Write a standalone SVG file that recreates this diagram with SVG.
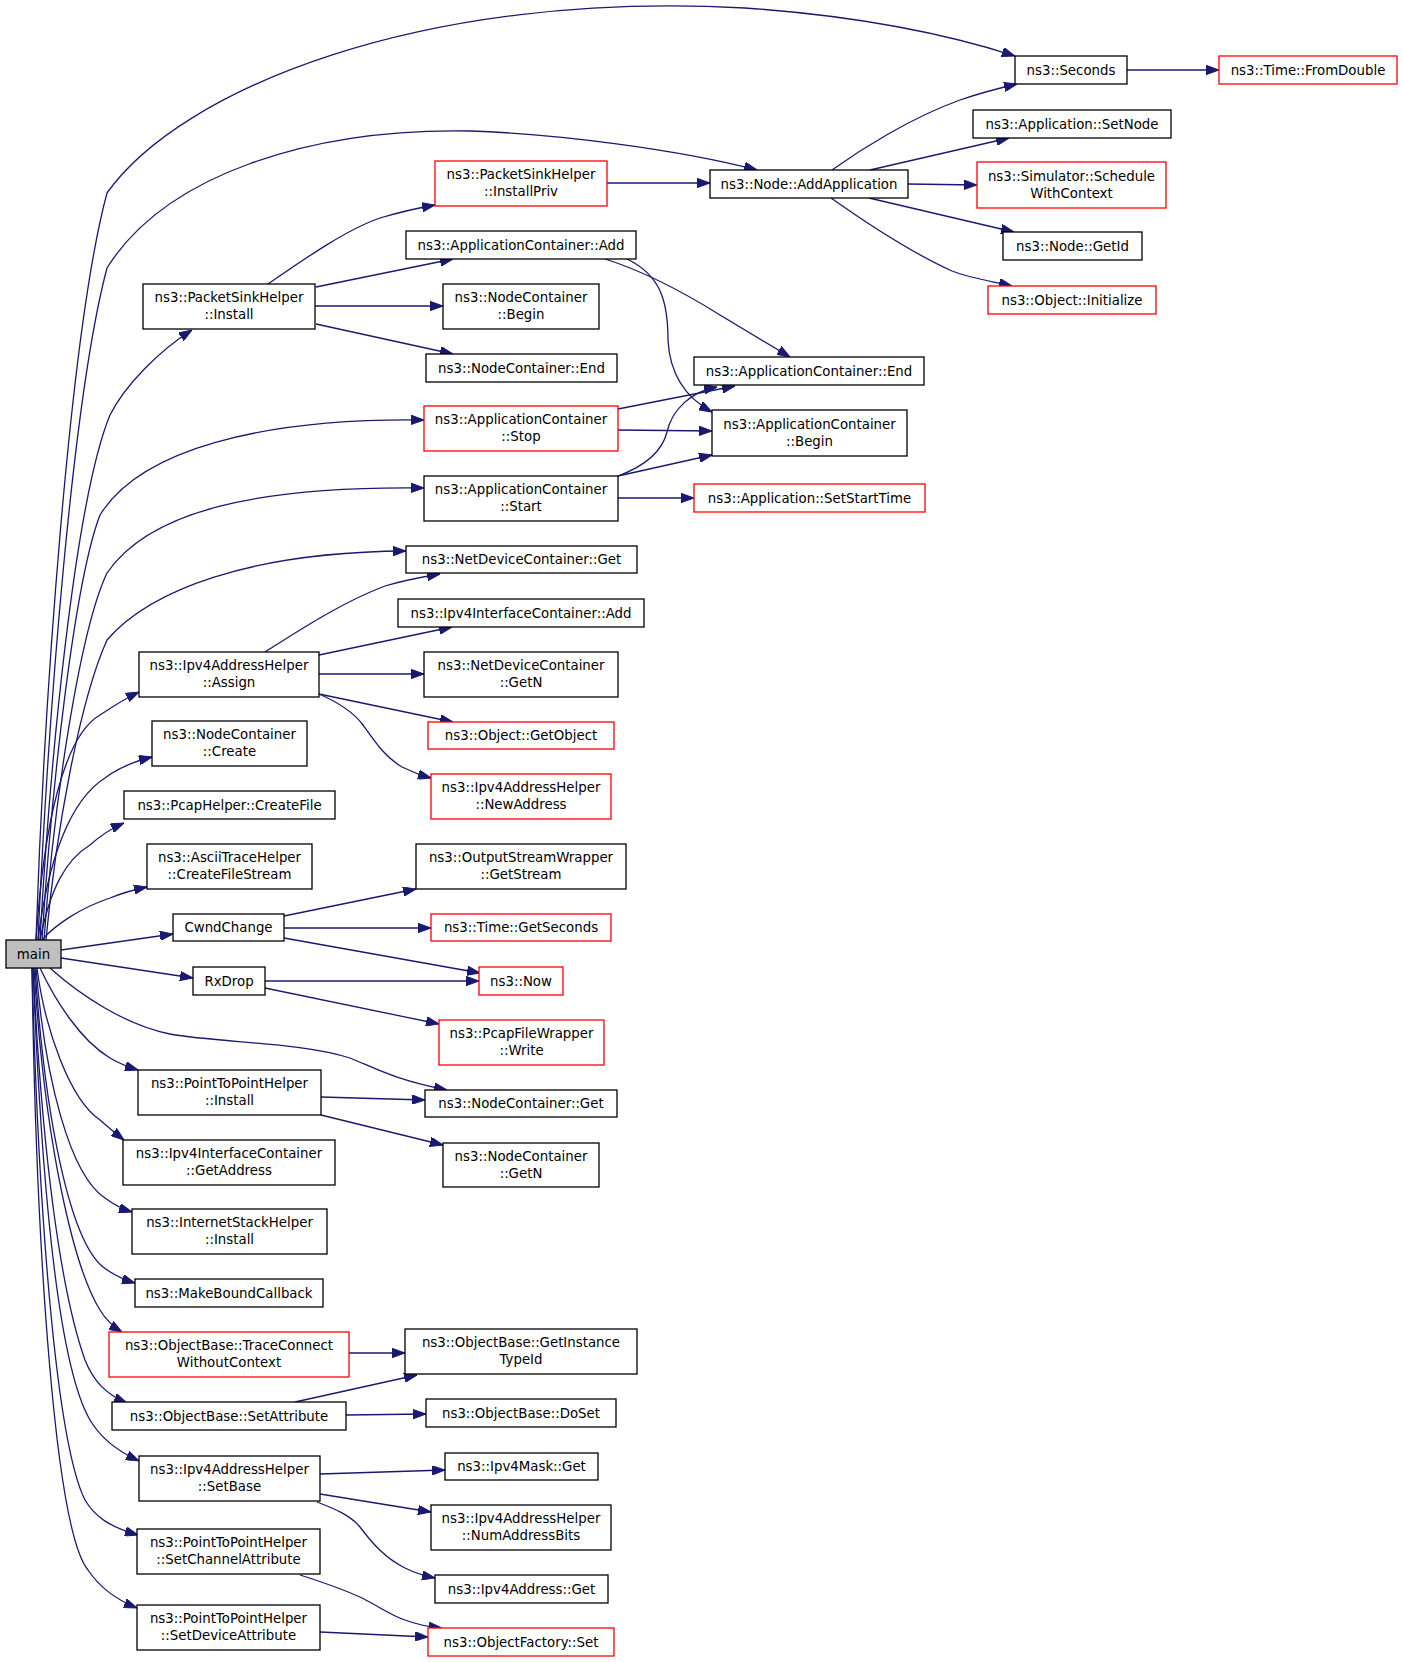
<svg xmlns="http://www.w3.org/2000/svg" width="1403" height="1662" viewBox="0 0 1403 1662">
<style>
.n rect{fill:#fff;stroke:#000;stroke-width:1.3}
.n.r rect{stroke:#ff0000}
.n.m rect{fill:#bfbfbf}
.n text{font-family:"DejaVu Sans","Liberation Sans",sans-serif;font-size:13.33px;text-anchor:middle;fill:#000}
#edges path{fill:none;stroke:#191970;stroke-width:1.3;marker-end:url(#ah)}
</style>
<defs>
<marker id="ah" viewBox="0 0 13 9.4" refX="13" refY="4.7" markerWidth="13" markerHeight="9.4" markerUnits="userSpaceOnUse" orient="auto">
<path d="M0,0 L13,4.7 L0,9.4 z" fill="#191970" stroke="#191970" stroke-width="1"/>
</marker>
</defs>
<rect x="0" y="0" width="1403" height="1662" fill="#fff"/>
<g id="edges">
<path d="M36,940 C44,700 70,330 107,193 C180,90 420,-10 745,8 C860,16 950,35 1015,56"/>
<path d="M38,940 C48,720 72,400 107,268 C165,175 310,128 470,131 C560,134 680,150 757,170"/>
<path d="M40,940 C50,760 75,500 110,415 C125,385 160,350 192,330"/>
<path d="M42,940 C52,780 75,580 100,515 C140,450 260,418 424,420"/>
<path d="M44,940 C54,800 80,630 107,573 C150,510 260,486 424,488"/>
<path d="M46,940 C56,830 80,700 107,640 C150,590 250,552 406,551"/>
<path d="M36,940 C44,820 65,735 100,715 C112,707 124,699 139,692"/>
<path d="M38,940 C48,860 70,800 105,778 C118,768 132,762 152,757"/>
<path d="M40,940 C50,890 65,860 90,845 C100,836 110,829 124,823"/>
<path d="M42,940 C55,925 80,908 110,898 C120,894 132,890 147,887"/>
<path d="M61,950 L173,934"/>
<path d="M61,958 L193,978"/>
<path d="M50,968 C80,995 125,1025 170,1034 C220,1043 300,1042 350,1058 C375,1068 395,1080 447,1090"/>
<path d="M40,968 C55,1000 80,1040 110,1058 C120,1064 128,1067 138,1070"/>
<path d="M37,968 C45,1030 70,1100 100,1120 C108,1127 115,1133 124,1140"/>
<path d="M36,968 C45,1080 70,1175 105,1198 C113,1204 122,1209 132,1212"/>
<path d="M35,968 C45,1120 70,1240 103,1267 C112,1274 122,1279 135,1283"/>
<path d="M34,968 C45,1150 75,1270 100,1310 C106,1320 112,1326 122,1332"/>
<path d="M33,968 C42,1150 60,1290 85,1360 C93,1380 105,1394 127,1403"/>
<path d="M33,968 C40,1150 55,1360 90,1420 C100,1437 115,1450 139,1461"/>
<path d="M32,968 C38,1200 55,1440 85,1500 C95,1517 110,1527 138,1535"/>
<path d="M32,968 C36,1250 55,1530 88,1570 C98,1585 112,1598 137,1608"/>
<path d="M268,284 C300,262 345,230 380,218 C400,212 418,208 435,205"/>
<path d="M316,287 L453,259"/>
<path d="M315,306 L443,306"/>
<path d="M316,324 L453,354"/>
<path d="M607,183 L710,183"/>
<path d="M832,170 C860,150 910,118 960,100 C980,93 1000,88 1017,84"/>
<path d="M870,170 L1009,138"/>
<path d="M908,184 L977,185"/>
<path d="M869,198 L1014,232"/>
<path d="M831,198 C865,222 910,252 952,271 C970,278 990,281 1012,286"/>
<path d="M1127,70 L1219,70"/>
<path d="M605,259 C640,270 680,290 720,315 C745,330 770,345 790,357"/>
<path d="M627,259 C660,275 668,300 668,340 C670,380 690,400 712,412"/>
<path d="M618,409 L735,386"/>
<path d="M618,430 L712,431"/>
<path d="M618,476 C645,466 662,452 667,432 C672,410 690,392 717,387"/>
<path d="M618,476 L712,455"/>
<path d="M618,498 L694,498"/>
<path d="M265,652 C295,633 340,603 385,586 C405,580 422,577 440,574"/>
<path d="M319,655 L452,627"/>
<path d="M319,674 L424,674"/>
<path d="M319,694 L453,722"/>
<path d="M319,694 C335,701 352,710 363,725 C375,742 385,757 402,767 C412,772 420,775 431,778"/>
<path d="M284,916 L416,889"/>
<path d="M284,928 L431,928"/>
<path d="M284,938 L480,973"/>
<path d="M265,981 L479,981"/>
<path d="M265,988 L439,1024"/>
<path d="M321,1097 L425,1100"/>
<path d="M321,1115 L443,1145"/>
<path d="M349,1353 L405,1353"/>
<path d="M295,1402 L417,1375"/>
<path d="M346,1415 L426,1414"/>
<path d="M320,1474 L445,1470"/>
<path d="M320,1494 L431,1512"/>
<path d="M317,1502 C335,1509 350,1515 360,1527 C372,1543 385,1558 405,1568 C415,1573 425,1576 435,1578"/>
<path d="M300,1575 C325,1583 345,1590 362,1598 C380,1607 390,1615 405,1620 C418,1625 430,1627 442,1628"/>
<path d="M320,1632 L428,1637"/>
</g>
<g id="main" class="n m"><rect x="6" y="940" width="55" height="28"/><text x="33.5" y="958.5">main</text></g>
<g id="seconds" class="n"><rect x="1015" y="56" width="112" height="28"/><text x="1071" y="74.5">ns3::Seconds</text></g>
<g id="fromdouble" class="n r"><rect x="1219" y="56" width="178" height="28"/><text x="1308" y="74.5">ns3::Time::FromDouble</text></g>
<g id="setnode" class="n"><rect x="973" y="110" width="198" height="28"/><text x="1072" y="128.5">ns3::Application::SetNode</text></g>
<g id="schedule" class="n r"><rect x="977" y="162" width="189" height="46"/><text x="1071.5" y="180.5">ns3::Simulator::Schedule</text><text x="1071.5" y="197.5">WithContext</text></g>
<g id="getid" class="n"><rect x="1003" y="232" width="139" height="28"/><text x="1072.5" y="250.5">ns3::Node::GetId</text></g>
<g id="initialize" class="n r"><rect x="988" y="286" width="168" height="28"/><text x="1072" y="304.5">ns3::Object::Initialize</text></g>
<g id="addapp" class="n"><rect x="710" y="170" width="198" height="28"/><text x="809" y="188.5">ns3::Node::AddApplication</text></g>
<g id="installpriv" class="n r"><rect x="435" y="161" width="172" height="45"/><text x="521" y="179">ns3::PacketSinkHelper</text><text x="521" y="196">::InstallPriv</text></g>
<g id="appadd" class="n"><rect x="406" y="231" width="230" height="28"/><text x="521" y="249.5">ns3::ApplicationContainer::Add</text></g>
<g id="psinstall" class="n"><rect x="143" y="284" width="172" height="45"/><text x="229" y="302">ns3::PacketSinkHelper</text><text x="229" y="319">::Install</text></g>
<g id="ncbegin" class="n"><rect x="443" y="284" width="156" height="45"/><text x="521" y="302">ns3::NodeContainer</text><text x="521" y="319">::Begin</text></g>
<g id="ncend" class="n"><rect x="426" y="354" width="191" height="28"/><text x="521.5" y="372.5">ns3::NodeContainer::End</text></g>
<g id="acend" class="n"><rect x="694" y="357" width="230" height="28"/><text x="809" y="375.5">ns3::ApplicationContainer::End</text></g>
<g id="acbegin" class="n"><rect x="712" y="410" width="195" height="46"/><text x="809.5" y="428.5">ns3::ApplicationContainer</text><text x="809.5" y="445.5">::Begin</text></g>
<g id="stop" class="n r"><rect x="424" y="406" width="194" height="45"/><text x="521" y="424">ns3::ApplicationContainer</text><text x="521" y="441">::Stop</text></g>
<g id="start" class="n"><rect x="424" y="476" width="194" height="45"/><text x="521" y="494">ns3::ApplicationContainer</text><text x="521" y="511">::Start</text></g>
<g id="setstart" class="n r"><rect x="694" y="484" width="231" height="28"/><text x="809.5" y="502.5">ns3::Application::SetStartTime</text></g>
<g id="ndcget" class="n"><rect x="406" y="546" width="231" height="27"/><text x="521.5" y="564">ns3::NetDeviceContainer::Get</text></g>
<g id="ipv4icadd" class="n"><rect x="398" y="599" width="246" height="28"/><text x="521" y="617.5">ns3::Ipv4InterfaceContainer::Add</text></g>
<g id="assign" class="n"><rect x="139" y="652" width="180" height="45"/><text x="229" y="670">ns3::Ipv4AddressHelper</text><text x="229" y="687">::Assign</text></g>
<g id="ndcgetn" class="n"><rect x="424" y="652" width="194" height="45"/><text x="521" y="670">ns3::NetDeviceContainer</text><text x="521" y="687">::GetN</text></g>
<g id="getobject" class="n r"><rect x="428" y="722" width="186" height="27"/><text x="521" y="740">ns3::Object::GetObject</text></g>
<g id="newaddress" class="n r"><rect x="431" y="774" width="180" height="45"/><text x="521" y="792">ns3::Ipv4AddressHelper</text><text x="521" y="809">::NewAddress</text></g>
<g id="nccreate" class="n"><rect x="152" y="721" width="155" height="45"/><text x="229.5" y="739">ns3::NodeContainer</text><text x="229.5" y="756">::Create</text></g>
<g id="createfile" class="n"><rect x="124" y="791" width="211" height="28"/><text x="229.5" y="809.5">ns3::PcapHelper::CreateFile</text></g>
<g id="cfs" class="n"><rect x="147" y="844" width="165" height="45"/><text x="229.5" y="862">ns3::AsciiTraceHelper</text><text x="229.5" y="879">::CreateFileStream</text></g>
<g id="getstream" class="n"><rect x="416" y="844" width="210" height="45"/><text x="521" y="862">ns3::OutputStreamWrapper</text><text x="521" y="879">::GetStream</text></g>
<g id="cwnd" class="n"><rect x="173" y="914" width="111" height="27"/><text x="228.5" y="932">CwndChange</text></g>
<g id="getseconds" class="n r"><rect x="431" y="914" width="180" height="27"/><text x="521" y="932">ns3::Time::GetSeconds</text></g>
<g id="rxdrop" class="n"><rect x="193" y="967" width="72" height="28"/><text x="229" y="985.5">RxDrop</text></g>
<g id="now" class="n r"><rect x="479" y="967" width="84" height="28"/><text x="521" y="985.5">ns3::Now</text></g>
<g id="write" class="n r"><rect x="439" y="1020" width="165" height="45"/><text x="521.5" y="1038">ns3::PcapFileWrapper</text><text x="521.5" y="1055">::Write</text></g>
<g id="p2pinstall" class="n"><rect x="138" y="1070" width="183" height="45"/><text x="229.5" y="1088">ns3::PointToPointHelper</text><text x="229.5" y="1105">::Install</text></g>
<g id="ncget" class="n"><rect x="425" y="1090" width="192" height="27"/><text x="521" y="1108">ns3::NodeContainer::Get</text></g>
<g id="ncgetn" class="n"><rect x="443" y="1143" width="156" height="44"/><text x="521" y="1160.5">ns3::NodeContainer</text><text x="521" y="1177.5">::GetN</text></g>
<g id="getaddress" class="n"><rect x="123" y="1140" width="212" height="45"/><text x="229" y="1158">ns3::Ipv4InterfaceContainer</text><text x="229" y="1175">::GetAddress</text></g>
<g id="ishinstall" class="n"><rect x="132" y="1209" width="195" height="45"/><text x="229.5" y="1227">ns3::InternetStackHelper</text><text x="229.5" y="1244">::Install</text></g>
<g id="mbc" class="n"><rect x="135" y="1279" width="188" height="28"/><text x="229" y="1297.5">ns3::MakeBoundCallback</text></g>
<g id="traceconnect" class="n r"><rect x="109" y="1332" width="240" height="45"/><text x="229" y="1350">ns3::ObjectBase::TraceConnect</text><text x="229" y="1367">WithoutContext</text></g>
<g id="getinstancetypeid" class="n"><rect x="405" y="1329" width="232" height="45"/><text x="521" y="1347">ns3::ObjectBase::GetInstance</text><text x="521" y="1364">TypeId</text></g>
<g id="setattribute" class="n"><rect x="112" y="1402" width="234" height="28"/><text x="229" y="1420.5">ns3::ObjectBase::SetAttribute</text></g>
<g id="doset" class="n"><rect x="426" y="1399" width="190" height="28"/><text x="521" y="1417.5">ns3::ObjectBase::DoSet</text></g>
<g id="setbase" class="n"><rect x="139" y="1456" width="181" height="45"/><text x="229.5" y="1474">ns3::Ipv4AddressHelper</text><text x="229.5" y="1491">::SetBase</text></g>
<g id="ipv4maskget" class="n"><rect x="445" y="1453" width="153" height="27"/><text x="521.5" y="1471">ns3::Ipv4Mask::Get</text></g>
<g id="numaddrbits" class="n"><rect x="431" y="1505" width="180" height="45"/><text x="521" y="1523">ns3::Ipv4AddressHelper</text><text x="521" y="1540">::NumAddressBits</text></g>
<g id="ipv4addrget" class="n"><rect x="435" y="1575" width="173" height="28"/><text x="521.5" y="1593.5">ns3::Ipv4Address::Get</text></g>
<g id="setchannel" class="n"><rect x="137" y="1529" width="183" height="45"/><text x="228.5" y="1547">ns3::PointToPointHelper</text><text x="228.5" y="1564">::SetChannelAttribute</text></g>
<g id="setdevice" class="n"><rect x="137" y="1605" width="183" height="45"/><text x="228.5" y="1623">ns3::PointToPointHelper</text><text x="228.5" y="1640">::SetDeviceAttribute</text></g>
<g id="ofset" class="n r"><rect x="428" y="1628" width="186" height="28"/><text x="521" y="1646.5">ns3::ObjectFactory::Set</text></g>
</svg>
